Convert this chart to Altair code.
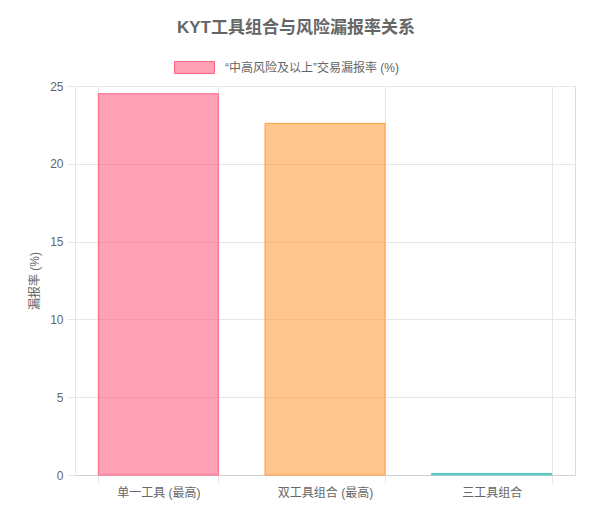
import altair as alt
import pandas as pd

categories = ["单一工具 (最高)", "双工具组合 (最高)", "三工具组合"]
values = [24.5, 22.6, 0.1]
fill_colors = ["rgba(255,99,132,0.6)", "rgba(255,159,64,0.6)", "rgba(75,192,192,0.6)"]
stroke_colors = ["#FF6384", "#FF9F40", "#4BC0C0"]
series_name = "“中高风险及以上”交易漏报率 (%)"
y_ticks = [0, 5, 10, 15, 20, 25]

FONT = "Liberation Sans, Noto Sans CJK SC, sans-serif"

df = pd.DataFrame({"cat": categories, "val": values, "series": [series_name] * 3})

x_enc = alt.X(
    "cat:N",
    sort=categories,
    title=None,
    scale=alt.Scale(paddingInner=0.28, paddingOuter=0.14),
    axis=alt.Axis(
        tickBand="extent",
        grid=True,
        gridColor="#e6e6e6",
        tickColor="#e6e6e6",
        tickSize=8,
        domainColor="#d0d0d0",
        labelAngle=0,
        labelPadding=4,
        labelFont=FONT,
        labelFontSize=12,
        labelColor="#666666",
    ),
)

y_enc = alt.Y(
    "val:Q",
    title="漏报率 (%)",
    scale=alt.Scale(domain=[0, 25], nice=False),
    axis=alt.Axis(
        values=y_ticks,
        grid=True,
        gridColor="#e6e6e6",
        tickColor="#e6e6e6",
        tickSize=8,
        domainColor="#e6e6e6",
        labelPadding=4,
        labelFont=FONT,
        labelFontSize=12,
        labelColor="#666666",
        titleFont=FONT,
        titleFontSize=12,
        titleFontWeight="normal",
        titleColor="#666666",
        titlePadding=8,
    ),
)

bars = alt.Chart(df).mark_bar(strokeWidth=1).encode(
    x=x_enc,
    y=y_enc,
    fill=alt.Fill("cat:N", scale=alt.Scale(domain=categories, range=fill_colors), legend=None),
    stroke=alt.Stroke("cat:N", scale=alt.Scale(domain=categories, range=stroke_colors), legend=None),
)

legend_layer = alt.Chart(df).transform_filter("false").mark_square(filled=True).encode(
    x=alt.X("cat:N", sort=categories),
    y="val:Q",
    color=alt.Color(
        "series:N",
        scale=alt.Scale(domain=[series_name], range=["rgba(255,99,132,0.6)"]),
        legend=alt.Legend(
            title=None,
            orient="none",
            legendX=99,
            legendY=-39,
            symbolType="M-1,-0.3H1V0.3H-1Z",
            symbolSize=1600,
            symbolStrokeColor="#FF6384",
            symbolStrokeWidth=1,
            symbolOpacity=1,
            labelFont=FONT,
            labelFontSize=12,
            labelColor="#666666",
            labelOffset=10,
            labelLimit=400,
        ),
    ),
)

chart = alt.layer(bars, legend_layer).properties(
    width=500,
    height=389,
    padding={"left": 67, "top": 78, "right": 9, "bottom": 37},
    autosize=alt.AutoSizeParams(type="none"),
    title=alt.TitleParams(
        "KYT工具组合与风险漏报率关系",
        font=FONT,
        fontSize=17,
        fontWeight="bold",
        color="#666666",
        anchor="middle",
        dx=-29,
        offset=10,
    ),
).configure_view(stroke=None).configure(background="white")

chart.save("out.html", embed_options={"renderer": "svg", "actions": False})
